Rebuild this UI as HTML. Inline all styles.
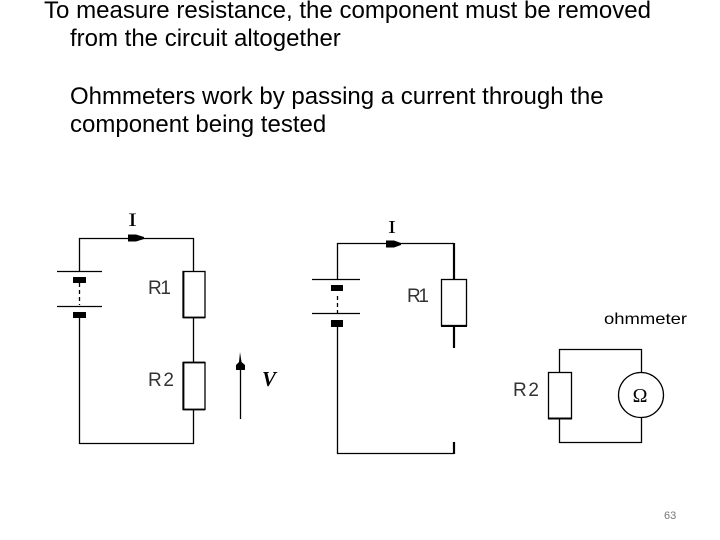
<!DOCTYPE html>
<html><head><meta charset="utf-8"><style>
html,body{margin:0;padding:0;background:#fff;width:720px;height:540px;overflow:hidden}
svg{display:block}
text{font-family:"Liberation Sans",sans-serif;fill:#000}
.h{font-size:24px}
.l{font-size:19px;font-weight:normal}
</style></head><body>
<svg width="720" height="540" viewBox="0 0 720 540" xmlns="http://www.w3.org/2000/svg">
<text class="h" x="44" y="18" textLength="607" lengthAdjust="spacingAndGlyphs">To measure resistance, the component must be removed</text>
<text class="h" x="70" y="46">from the circuit altogether</text>
<text class="h" x="70" y="104">Ohmmeters work by passing a current through the</text>
<text class="h" x="70" y="132">component being tested</text>

<g fill="none" stroke="#000" stroke-width="1.3">
<!-- left circuit -->
<path d="M79.5 271V238.500H193.500V271M193.500 317V362M193.500 409V443.500H79.500V318"/>
<path d="M57 271.500H102M57 306.500H102"/>
<path d="M79.500 283V305" stroke-dasharray="4 3"/>
<rect x="183" y="271.500" width="22" height="46" fill="#fff"/>
<rect x="183" y="362.500" width="22" height="47" fill="#fff"/>
<path d="M183 317.500H205M183 362.500H205M183 409.500H205M183.500 271V318M183.500 362V410" stroke-width="1.800"/>
<path d="M240.500 419V360"/>
<!-- middle circuit -->
<path d="M337.500 279V243.500H454"/>
<path d="M454 243V279M454 326V348M454 442V454" stroke-width="2.200"/>
<path d="M454 453.500H337.500V326"/>
<path d="M312 279.500H360M312 313.500H360"/>
<path d="M337.500 296V313" stroke-dasharray="4 3"/>
<rect x="441.500" y="279.500" width="25" height="46" fill="#fff"/>
<path d="M441 326H467" stroke-width="2"/>
<!-- ohmmeter circuit -->
<path d="M559.500 372V349.500H641.500V372.500M641.500 417.500V442.500H559.500V419"/>
<rect x="548.500" y="372.500" width="23" height="46" fill="#fff"/>
<path d="M548 418.500H572" stroke-width="2"/>
<circle cx="641" cy="395" r="22.500" fill="#fff"/>
</g>
<g fill="#000">
<rect x="73" y="277" width="13" height="6"/>
<rect x="73" y="312" width="13" height="6"/>
<rect x="331" y="285" width="12" height="6"/>
<rect x="331" y="320" width="12" height="7"/>
<path d="M128 234.500H136L144 237V239L136 241.500H128Z"/>
<path d="M386 240.500H394L401 243V245L394 247.500H386Z"/>
<path d="M236 370V365L239 362L240 352L241.500 362L245 365V370Z"/>
</g>
<g fill="#222">
<text x="128" y="226" textLength="9" lengthAdjust="spacingAndGlyphs" style="font-family:'Liberation Serif',serif;font-size:19px">I</text>
<text x="388" y="233" textLength="8" lengthAdjust="spacingAndGlyphs" style="font-family:'Liberation Serif',serif;font-size:18px">I</text>
<text class="l" x="148" y="294" textLength="23" style="fill:#333">R1</text>
<text class="l" x="148" y="386" textLength="26" style="fill:#333">R2</text>
<text x="262" y="386" style="font-family:'Liberation Serif',serif;font-size:21px;font-style:italic;font-weight:bold">V</text>
<text class="l" x="407" y="302" textLength="22" style="fill:#333">R1</text>
<text class="l" x="513" y="396" textLength="26" style="fill:#333">R2</text>
<text x="604" y="324" textLength="83" lengthAdjust="spacingAndGlyphs" style="font-family:'Liberation Sans',sans-serif;font-size:16px">ohmmeter</text>
<text x="640" y="402" text-anchor="middle" style="font-family:'Liberation Serif',serif;font-size:20px">Ω</text>
</g>
<text x="664" y="519" style="font-size:11px;fill:#777">63</text>
</svg>
</body></html>
